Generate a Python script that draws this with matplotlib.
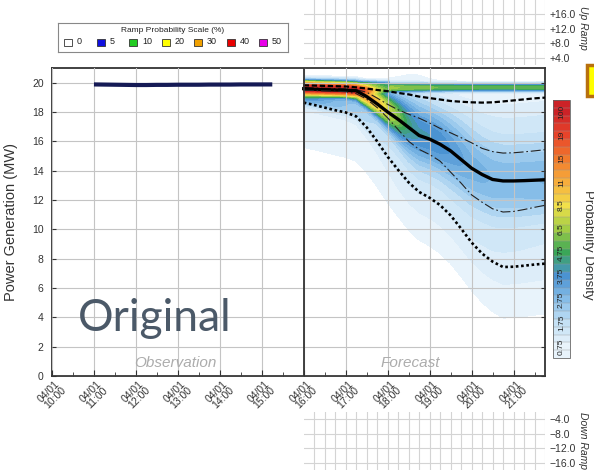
import numpy as np
import matplotlib
matplotlib.use("Agg")
import matplotlib.pyplot as plt
from matplotlib.colors import BoundaryNorm, ListedColormap, LinearSegmentedColormap
from matplotlib.patches import Rectangle
from matplotlib.cm import ScalarMappable
from matplotlib.ticker import MultipleLocator
from matplotlib.transforms import ScaledTranslation

plt.rcParams['font.family'] = ['Liberation Sans', 'DejaVu Sans']

# ---- observed output (MW), 15-minute steps from 11:00 ----
obs_start = 11.0
obs_power = [19.88, 19.87, 19.86, 19.85, 19.84, 19.84, 19.85, 19.85, 19.86,
             19.86, 19.86, 19.87, 19.87, 19.87, 19.88, 19.88, 19.88, 19.88]

# ---- forecast quantiles (MW), 15-minute steps from 16:00 ----
fc_start = 16.0
q10 = [18.64, 18.48, 18.30, 18.12, 17.97, 17.70, 16.95, 16.00, 14.95, 14.05,
       13.20, 12.55, 12.15, 11.65, 10.95, 10.05, 9.10, 8.35, 7.80, 7.43,
       7.45, 7.52, 7.60, 7.66]
q25 = [19.48, 19.46, 19.44, 19.42, 19.38, 19.25, 18.88, 18.30, 17.60, 16.80,
       16.00, 15.45, 15.10, 14.65, 13.90, 13.15, 12.35, 11.85, 11.40, 11.18,
       11.22, 11.35, 11.50, 11.64]
q50 = [19.59, 19.55, 19.52, 19.50, 19.48, 19.45, 19.05, 18.55, 18.00, 17.50,
       16.95, 16.40, 16.15, 15.80, 15.35, 14.76, 14.17, 13.74, 13.40, 13.30,
       13.30, 13.32, 13.35, 13.38]
q75 = [19.65, 19.64, 19.62, 19.60, 19.58, 19.52, 19.35, 18.95, 18.52, 18.15,
       17.85, 17.58, 17.25, 16.88, 16.58, 16.25, 15.90, 15.52, 15.30, 15.20,
       15.22, 15.28, 15.35, 15.43]
q90 = [19.82, 19.80, 19.78, 19.76, 19.74, 19.68, 19.60, 19.50, 19.42, 19.30,
       19.20, 19.05, 18.95, 18.85, 18.75, 18.70, 18.66, 18.64, 18.66, 18.72,
       18.79, 18.86, 18.93, 18.98]

# ---- axis labels ----
hours = [10, 11, 12, 13, 14, 15, 16, 17, 18, 19, 20, 21]
hour_labels = ["04/01\n%d:00" % h for h in hours]
power_ticks = [0, 2, 4, 6, 8, 10, 12, 14, 16, 18, 20]

# ---- probability density colour scale ----
density_bounds = [0, 0.75, 1.75, 2.75, 3.75, 4.75, 6.5, 8.5, 11, 15, 19, 100]
density_labels = ["0.75", "1.75", "2.75", "3.75", "4.75", "6.5", "8.5",
                  "11", "15", "19", "100"]
density_colors = ['#e8f3fb', '#c4e1f5', '#86bde8', '#4a92d2', '#3aa658',
                  '#a0cd44', '#f2e04a', '#f6ae3c', '#f27a2c', '#e8442a',
                  '#cc2227']

# ---- ramp probability legend ----
ramp_levels = ["0", "5", "10", "20", "30", "40", "50"]
ramp_colors = ['#ffffff', '#1010e0', '#22cc22', '#ffff00', '#f0a000',
               '#e80000', '#e800e8']

up_ticks = [4, 8, 12, 16]
down_ticks = [-4, -8, -12, -16]

# ------------------------------------------------------------------
W, H = 594, 470
fig = plt.figure(figsize=(W / 100, H / 100), dpi=100)


def px_axes(x0, y0, x1, y1):
    return fig.add_axes([x0 / W, (H - y1) / H, (x1 - x0) / W, (y1 - y0) / H])


# fine colour levels: three sub-bands per labelled interval
fine_bounds = np.concatenate(
    [np.linspace(density_bounds[k], density_bounds[k + 1], 4)[:-1]
     for k in range(len(density_bounds) - 1)] + [[density_bounds[-1]]])
n_fine = len(fine_bounds) - 1
base_cmap = LinearSegmentedColormap.from_list('pd', density_colors)
pos = np.clip(((np.arange(n_fine) + 0.5) / 3 - 0.5) / (len(density_colors) - 1), 0, 1)
cmap = ListedColormap(base_cmap(pos))
norm = BoundaryNorm(fine_bounds, n_fine)


def gauss_smooth(d, sigma, step):
    n = int(np.ceil(4 * sigma / step))
    off = np.arange(-n, n + 1) * step
    ker = np.exp(-0.5 * (off / sigma) ** 2)
    ker /= ker.sum()
    return np.convolve(d, ker, mode='same')


# density field from the forecast quantiles: piecewise-linear CDF, the part
# near rated capacity kept sharp, the rest smoothed by the forecast spread
t_fc = fc_start + 0.25 * np.arange(len(q50))
tt = np.linspace(t_fc[0], t_fc[-1], 300)
yy = np.linspace(0, 21, 421)
dy = yy[1] - yy[0]
qs = [np.interp(tt, t_fc, q) for q in (q10, q25, q50, q75, q90)]
Z = np.zeros((len(yy), len(tt)))
cap_edge = 19.4
for j in range(len(tt)):
    a10, a25, a50, a75, a90 = (q[j] for q in qs)
    ky = [max(a10 - 9.0, 0.0), a10 - 3.0, a10, a25, a50, a75, a90]
    kc = [0.0, 0.03, 0.10, 0.25, 0.50, 0.75, 0.90]
    if a90 < 19.4:
        ky += [19.45, 19.9]
        kc += [0.90, 1.0]
    else:
        ky += [20.05]
        kc += [1.0]
    d = np.gradient(np.interp(yy, ky, kc), dy)
    band = np.where(yy >= cap_edge, d, 0.0)
    body = d - band
    band_mass = band.sum() * dy
    sig_body = min(0.15 + 0.5 * (a75 - a25), 1.2)
    sig_band = 0.1 + 0.12 * np.clip((band_mass - 0.1) / 0.5, 0, 1)
    Z[:, j] = gauss_smooth(body, sig_body, dy) + gauss_smooth(band, sig_band, dy)
Z = np.clip(Z * 20.0, 0, 99.9)   # percent per 0.2 MW bin

# ---------------- main axes ----------------
ax = px_axes(52, 68, 545, 376)
ax.set_xlim(10, 21.75)
ax.set_ylim(0, 21)
ax.contourf(tt, yy, Z, levels=fine_bounds[1:], cmap=cmap, norm=norm, zorder=0.5)
ax.set_axisbelow(False)
ax.grid(True, color='#c4c4c4', lw=0.8)

ax.plot(obs_start + 0.25 * np.arange(len(obs_power)), obs_power,
        color='#151a55', lw=3, solid_capstyle='butt', zorder=3)

ax.plot(t_fc, q90, color='black', lw=1.6, ls=(0, (2.4, 1.2)), zorder=3)
ax.plot(t_fc, q75, color='#222222', lw=0.8, ls=(0, (9, 2.5, 1.5, 2.5)), zorder=3)
ax.plot(t_fc, q50, color='black', lw=2.4, zorder=3)
ax.plot(t_fc, q25, color='#222222', lw=0.8, ls=(0, (9, 2.5, 1.5, 2.5)), zorder=3)
ax.plot(t_fc, q10, color='black', lw=1.9, ls=(0, (1, 1)), zorder=3)

ax.axvline(16, color='#333333', lw=1.3, zorder=4)

ax.set_xticks(hours, labels=hour_labels, rotation=45, ha='center',
              fontsize=7.5, linespacing=0.8, color='#333333')
shift = ScaledTranslation(5 / 100, 0, fig.dpi_scale_trans)
for lab in ax.get_xticklabels():
    lab.set_transform(lab.get_transform() + shift)
ax.xaxis.set_minor_locator(MultipleLocator(0.5))
ax.tick_params(axis='x', which='major', direction='in', length=4, pad=2, color='#333333')
ax.tick_params(axis='x', which='minor', direction='in', length=3, color='#333333')
ax.set_yticks(power_ticks)
ax.tick_params(axis='y', direction='in', length=3, right=True, labelsize=7.5,
               labelcolor='#333333', pad=6, color='#333333')
for s in ax.spines.values():
    s.set_color('#333333')
    s.set_linewidth(1.3)
ax.set_ylabel("Power Generation (MW)", fontsize=10.5, color='#333333')
ax.yaxis.set_label_coords(-34 / 493, 0.5)

ax.text(12.95, 0.9, "Observation", style='italic', color='#acacac',
        fontsize=11, ha='center', va='center', zorder=5)
ax.text(18.55, 0.9, "Forecast", style='italic', color='#acacac',
        fontsize=11, ha='center', va='center', zorder=5)
ax.text(12.45, 3.1, "Original", fontsize=32, color='#4b5968',
        family=['Lato', 'DejaVu Sans'], ha='center', va='baseline', zorder=5)

# ---------------- up / down ramp panels ----------------
def ramp_axes(y0, y1, ylim, ticks, labels, title, ty):
    rax = px_axes(304, y0, 545, y1)
    rax.set_xlim(16, 21.75)
    rax.set_ylim(*ylim)
    for x in np.arange(16.25, 21.76, 0.25):
        rax.axvline(x, color='#d4d4d4', lw=0.8)
    for v in ticks:
        rax.axhline(v, color='#d4d4d4', lw=0.8)
    rax.yaxis.tick_right()
    rax.set_yticks(ticks, labels=labels)
    rax.tick_params(axis='y', length=0, pad=3, labelsize=7.5, labelcolor='#333333')
    rax.set_xticks([])
    for s in rax.spines.values():
        s.set_visible(False)
    fig.text(583 / W, (H - ty) / H, title, rotation=270, style='italic',
             fontsize=7.5, ha='center', va='center', color='#333333')


ramp_axes(0, 65, (2.1, 19.8), up_ticks, ["+%.1f" % v for v in up_ticks], "Up Ramp", 28)
ramp_axes(412, 470, (-17.9, -2.1), down_ticks,
          ["\u2212%.1f" % abs(v) for v in down_ticks], "Down Ramp", 440)

# ---------------- colour bar ----------------
cax = px_axes(553, 100, 570, 358)
cb = fig.colorbar(ScalarMappable(norm=norm, cmap=cmap), cax=cax,
                  spacing='uniform', drawedges=True)
cb.set_ticks([])
cb.minorticks_off()
cb.outline.set_linewidth(0.6)
cb.outline.set_edgecolor('#666666')
cb.dividers.set_color('#999999')
cb.dividers.set_linewidth(0.3)
for k, lab in enumerate(density_labels):
    mid = 0.5 * (density_bounds[k] + density_bounds[k + 1])
    cax.text(0.5, mid, lab, rotation=90, ha='center', va='center',
             fontsize=6, color='#222222')
fig.text(588 / W, (H - 245) / H, "Probability Density", rotation=270,
         fontsize=9.5, ha='center', va='center', color='#333333')

# partially visible ramp marker at the right edge
fig.patches.append(Rectangle((587 / W, (H - 96) / H), 20 / W, 31 / H,
                             transform=fig.transFigure, facecolor='#ffff00',
                             edgecolor='#b8700e', lw=2.5))

# ---------------- ramp probability legend ----------------
lax = px_axes(58, 23, 288, 52)
lax.set_xlim(58, 288)
lax.set_ylim(52, 23)
lax.set_xticks([])
lax.set_yticks([])
for s in lax.spines.values():
    s.set_color('#888888')
    s.set_linewidth(0.8)
lax.text(173, 30.5, "Ramp Probability Scale (%)", fontsize=6, ha='center',
         va='center', color='#222222')
for i, (lab, col) in enumerate(zip(ramp_levels, ramp_colors)):
    cx = 68 + 32.5 * i
    lax.add_patch(Rectangle((cx - 4, 38.5), 8, 7, facecolor=col,
                            edgecolor='#333333', lw=0.6))
    lax.text(cx + 9, 42, lab, fontsize=6.5, ha='left', va='center', color='#222222')

fig.savefig("out.png", dpi=100)
